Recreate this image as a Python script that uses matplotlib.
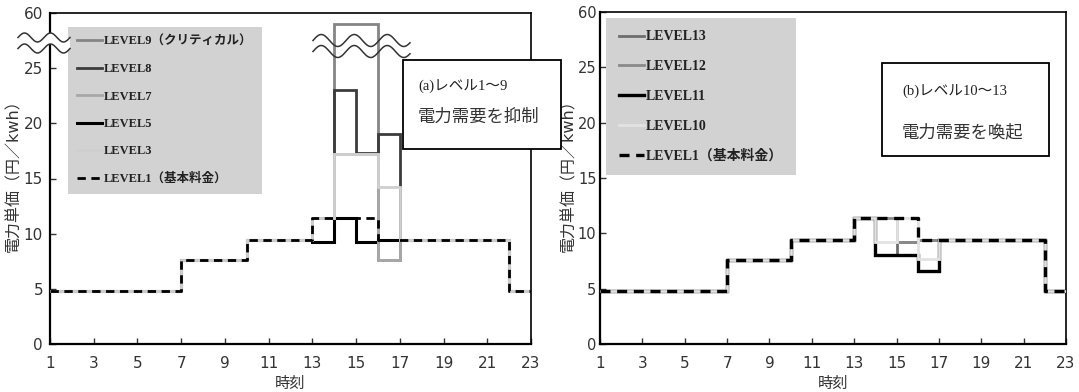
import numpy as np
import matplotlib.pyplot as plt
from matplotlib.patches import Rectangle

plt.rcParams['font.family'] = ['DejaVu Sans', 'Noto Sans CJK JP']

W, H = 1079, 392

# hourly price steps (hour h covers [h, h+1])
HOURS = list(range(1, 23))
BASE = [4.8] * 6 + [7.6] * 3 + [9.4] * 3 + [11.4] * 3 + [9.4] * 6 + [4.8]

# values that differ from base, hours 13..16
PEAK_HOURS = [13, 14, 15, 16]
LEVEL9 = [11.4, 53.0, 53.0, 7.6]
LEVEL8 = [11.4, 23.0, 17.3, 19.0]
LEVEL7 = [11.4, 17.2, 17.2, 7.6]
LEVEL5 = [9.2, 11.4, 9.2, 9.4]
LEVEL3 = [11.4, 17.2, 17.2, 14.2]
LEVEL1 = [11.4, 11.4, 11.4, 9.4]

LEVEL13 = [11.4, 8.0, 9.2, 9.4]
LEVEL12 = [11.4, 11.4, 9.2, 9.4]
LEVEL11 = [11.4, 8.0, 8.0, 6.6]
LEVEL10 = [11.4, 9.2, 11.4, 7.7]

YTICKS = [0, 5, 10, 15, 20, 25, 30]
YTICK_LABELS = ['0', '5', '10', '15', '20', '25', '60']
XTICKS = list(range(1, 24, 2))

SERIF_JP = ['Liberation Serif', 'Noto Sans CJK JP']


def px(x):
    return x / W


def py(y):
    return 1 - y / H


def to_axis(v):
    # broken axis: 25..60 squeezed into 25..30
    return v if v <= 25 else 25 + (v - 25) * 5 / 35


def series(peak):
    vals = list(BASE)
    for h, v in zip(PEAK_HOURS, peak):
        vals[h - 1] = v
    vals = [to_axis(v) for v in vals]
    return HOURS + [23], vals + [vals[-1]]


def draw_step(ax, peak, **kw):
    x, y = series(peak)
    ax.step(x, y, where='post', solid_joinstyle='miter', **kw)


def style_axes(ax, label_x, ypad, ysize):
    ax.set_xlim(1, 23)
    ax.set_ylim(0, 30)
    ax.set_xticks(XTICKS)
    ax.set_yticks(YTICKS)
    ax.set_yticklabels(YTICK_LABELS)
    ax.tick_params(direction='in', length=4, labelsize=11, colors='#333333',
                   width=1)
    ax.tick_params(axis='x', pad=9)
    ax.tick_params(axis='y', pad=ypad, labelsize=ysize)
    for s in ['left', 'bottom']:
        ax.spines[s].set_linewidth(1.6)
    for s in ['top', 'right']:
        ax.spines[s].set_linewidth(1.2)
    ax.set_xlabel('時刻', fontsize=11, color='#333333', labelpad=3)
    ax.set_ylabel('電力単価（円／kwh）', fontsize=11.5, color='#333333')
    ax.yaxis.set_label_coords(label_x, 0.52)


def legend(ax, x0, y0, size, spacing, pad, hl):
    leg = ax.legend(loc='upper left', bbox_to_anchor=(px(x0), py(y0)),
                    bbox_transform=fig.transFigure, frameon=True,
                    handlelength=hl, handletextpad=0.2, labelspacing=spacing,
                    borderpad=pad, borderaxespad=0,
                    prop={'family': SERIF_JP, 'weight': 'bold', 'size': size})
    leg.get_frame().set_facecolor('#d2d2d2')
    leg.get_frame().set_edgecolor('none')
    leg.get_frame().set_alpha(1)
    leg.get_frame().set_boxstyle('square', pad=0)
    for t in leg.get_texts():
        t.set_color('#222222')
    return leg


def note_box(x0, y0, x1, y1, line1, line2, t1y, t2y, tx):
    fig.add_artist(Rectangle((px(x0), py(y1)), px(x1) - px(x0), py(y0) - py(y1),
                             transform=fig.transFigure, facecolor='white',
                             edgecolor='black', linewidth=1.3, zorder=10))
    fig.text(px(tx), py(t1y), line1, fontsize=10.5, va='center', zorder=11,
             family=SERIF_JP, color='#222222')
    fig.text(px(tx), py(t2y), line2, fontsize=12.5, va='center', zorder=11,
             family=['Noto Sans CJK JP'], color='#333333')


def wave(x0, x1, yc, amp, period, fill=False):
    xs = np.linspace(x0, x1, 200)
    y_up = yc - 5.5 + amp * np.sin(2 * np.pi * (xs - x0) / period + np.pi)
    y_lo = yc + 5.5 + amp * np.sin(2 * np.pi * (xs - x0) / period + np.pi)
    if fill:
        fig.add_artist(plt.Polygon(
            np.column_stack([np.r_[px(xs), px(xs[::-1])],
                             np.r_[py(y_up), py(y_lo[::-1])]]),
            transform=fig.transFigure, facecolor='white', edgecolor='none',
            zorder=8))
    for yy in (y_up, y_lo):
        fig.add_artist(plt.Line2D(px(xs), py(yy), transform=fig.transFigure,
                                  color='#333333', linewidth=1.1, zorder=9))


fig = plt.figure(figsize=(W / 100, H / 100), dpi=100)
ax1 = fig.add_axes([px(50), py(344), px(531) - px(50), py(13) - py(344)])
ax2 = fig.add_axes([px(600), py(344), px(1066) - px(600), py(12) - py(344)])

# (a) levels 1-9
draw_step(ax1, LEVEL9, color='#858585', lw=2.0, label='LEVEL9（クリティカル）', zorder=2)
draw_step(ax1, LEVEL8, color='#3c3c3c', lw=2.0, label='LEVEL8', zorder=3)
draw_step(ax1, LEVEL7, color='#a8a8a8', lw=2.0, label='LEVEL7', zorder=5)
draw_step(ax1, LEVEL5, color='black', lw=2.2, label='LEVEL5', zorder=4)
draw_step(ax1, LEVEL3, color='#cfcfcf', lw=2.0, label='LEVEL3', zorder=6)
draw_step(ax1, LEVEL1, color='black', lw=2.0, ls=(0, (3, 2)),
          label='LEVEL1（基本料金）', zorder=7)
style_axes(ax1, -0.06, 5, 11)
legend(ax1, 68, 27, 9, 1.23, 0.7, 2.0)

# (b) levels 10-13
draw_step(ax2, LEVEL13, color='#6e6e6e', lw=2.0, label='LEVEL13', zorder=2)
draw_step(ax2, LEVEL12, color='#8a8a8a', lw=2.0, label='LEVEL12', zorder=3)
draw_step(ax2, LEVEL11, color='black', lw=2.4, label='LEVEL11', zorder=4)
draw_step(ax2, LEVEL10, color='#e2e2e2', lw=2.0, label='LEVEL10', zorder=5)
draw_step(ax2, LEVEL1, color='black', lw=2.4, ls=(0, (3, 2)),
          label='LEVEL1（基本料金）', zorder=7)
style_axes(ax2, -0.05, 2.5, 10.5)
legend(ax2, 606, 18, 10, 1.2, 0.9, 1.8)

note_box(403, 60, 561, 149, '(a)レベル1～9', '電力需要を抑制', 87, 117, 418)
note_box(882, 63, 1049, 156, '(b)レベル10～13', '電力需要を喚起', 92, 132, 902)

wave(18, 70, 43, 4.5, 26, fill=True)
wave(313, 410, 46, 6, 33)

fig.savefig('out.png', dpi=100)
